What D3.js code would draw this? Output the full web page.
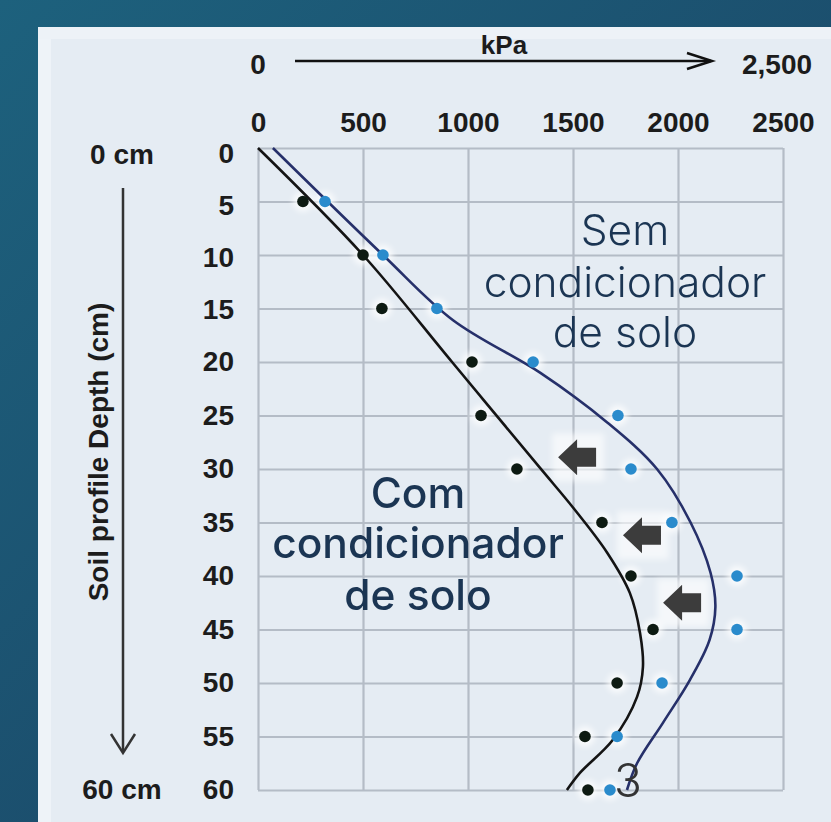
<!DOCTYPE html>
<html><head><meta charset="utf-8">
<script src="https://cdn.jsdelivr.net/npm/d3@7/dist/d3.min.js"></script>
<style>html,body{margin:0;padding:0;overflow:hidden;background:#1b4f6e}</style>
</head><body><svg id="c" width="831" height="822"></svg>
<script>
// ---------- data ----------
const depths = [5,10,15,20,25,30,35,40,45,50,55,60];
const comCondicionador = [214,500,590,1019,1062,1233,1638,1776,1881,1710,1557,1571];
const semCondicionador = [319,595,852,1310,1714,1776,1971,2281,2281,1924,1710,1676];
const comCurveKpa   = [0,500,924,1343,1500,1662,1771,1819,1833,1805,1690,1533,1471];
const comCurveDepth = [0,10,20,29.9,33.6,37.8,41.6,45.3,48.5,51.3,55.3,58.4,60];
const semCurveKpa   = [71,595,929,1343,1660,1900,2060,2155,2178,2150,2057,1929,1805,1757];
const semCurveDepth = [0,10,16.1,21,25.6,30,35,39.7,42.9,46,49.7,53.7,57.5,60];
const xTicks = [0,500,1000,1500,2000,2500];
const yTicks = [0,5,10,15,20,25,30,35,40,45,50,55,60];
const arrowKpa = [1429,1738,1929];
const arrowDepth = [28.9,36.2,42.5];
const semLabel = ["Sem","condicionador","de solo"];
const comLabel = ["Com","condicionador","de solo"];

// ---------- drawing ----------
const svg = d3.select("#c");
const defs = svg.append("defs");
const bg = defs.append("linearGradient").attr("id","bg").attr("x1",0).attr("y1",0).attr("x2",1).attr("y2",1);
bg.append("stop").attr("offset","0%").attr("stop-color","#1d617d");
bg.append("stop").attr("offset","100%").attr("stop-color","#1a3f60");
const glow = defs.append("filter").attr("id","glow").attr("x","-50%").attr("y","-50%").attr("width","200%").attr("height","200%");
glow.append("feGaussianBlur").attr("stdDeviation",3);

svg.append("rect").attr("width",831).attr("height",822).attr("fill","url(#bg)");
svg.append("rect").attr("x",38).attr("y",27).attr("width",800).attr("height",800).attr("fill","#e5ecf3");
svg.append("rect").attr("x",38).attr("y",27).attr("width",13).attr("height",800).attr("fill","#eef3f8");
svg.append("rect").attr("x",38).attr("y",27).attr("width",800).attr("height",12).attr("fill","#edf2f7");

const x = d3.scaleLinear().domain([0,2500]).range([258,783]);
const y = d3.scaleLinear().domain([0,60]).range([148,790]);

// grid
const gridColor = "#b4bcc6";
const gx = svg.append("g").attr("transform","translate(0,148)")
  .call(d3.axisBottom(x).tickValues(xTicks).tickSize(642).tickFormat(""));
gx.select(".domain").remove();
gx.selectAll("line").attr("stroke",gridColor).attr("stroke-width",2.2);
const gy = svg.append("g").attr("transform","translate(258,0)")
  .call(d3.axisRight(y).tickValues(yTicks).tickSize(525).tickFormat(""));
gy.select(".domain").remove();
gy.selectAll("line").attr("stroke",gridColor).attr("stroke-width",2.2);

// axis labels
const axFont = "'Liberation Sans', Arial, sans-serif";
const ax = svg.append("g").attr("transform","translate(0,132)")
  .call(d3.axisTop(x).tickValues(xTicks).tickSize(0).tickPadding(0).tickFormat(d3.format("d")));
ax.select(".domain").remove();
ax.selectAll("text").attr("font-family",axFont).attr("font-weight","bold").attr("font-size",28).attr("fill","#1c1c1c");

const ay = svg.append("g").attr("transform","translate(234,0)")
  .call(d3.axisLeft(y).tickValues(yTicks).tickSize(0).tickPadding(0).tickFormat(d3.format("d")));
ay.select(".domain").remove();
ay.selectAll("text").attr("font-family",axFont).attr("font-weight","bold").attr("font-size",28).attr("fill","#1c1c1c")
  .attr("dy",(d)=> (0.32 + (d<=20 ? 0.18*(1-d/20) : 0)) + "em");

// top kPa arrow
const t = svg.append("g").attr("font-family",axFont).attr("font-weight","bold").attr("fill","#1c1c1c");
t.append("text").attr("x",x(0)).attr("y",74).attr("text-anchor","middle").attr("font-size",28).text("0");
t.append("text").attr("x",777).attr("y",74).attr("text-anchor","middle").attr("font-size",28).text(d3.format(",")(2500));
t.append("text").attr("x",504).attr("y",54).attr("text-anchor","middle").attr("font-size",26).text("kPa");
svg.append("line").attr("x1",295).attr("x2",711).attr("y1",61).attr("y2",61).attr("stroke","#111").attr("stroke-width",2.5);
svg.append("path").attr("d","M687,53 L712,61 L687,69").attr("fill","none").attr("stroke","#111").attr("stroke-width",2.5);

// left depth arrow
t.append("text").attr("x",122).attr("y",164).attr("text-anchor","middle").attr("font-size",28).text("0 cm");
t.append("text").attr("x",122).attr("y",799).attr("text-anchor","middle").attr("font-size",28).text("60 cm");
svg.append("line").attr("x1",123).attr("x2",123).attr("y1",188).attr("y2",752).attr("stroke","#333").attr("stroke-width",2.5);
svg.append("path").attr("d","M111,734 L123,753 L135,734").attr("fill","none").attr("stroke","#333").attr("stroke-width",2.5);
t.append("text").attr("transform","translate(108,452) rotate(-90)").attr("text-anchor","middle").attr("font-size",28).text("Soil profile Depth (cm)");

// curves
const line = d3.line().x(d=>x(d[0])).y(d=>y(d[1])).curve(d3.curveCatmullRom.alpha(0.5));
const comCurve = comCurveKpa.map((v,i)=>[v,comCurveDepth[i]]);
const semCurve = semCurveKpa.map((v,i)=>[v,semCurveDepth[i]]);

// halos
const semPts = semCondicionador.map((v,i)=>[v,depths[i]]);
const comPts = comCondicionador.map((v,i)=>[v,depths[i]]);
svg.append("g").attr("filter","url(#glow)").selectAll("circle").data(semPts.concat(comPts)).join("circle")
  .attr("cx",d=>x(d[0])).attr("cy",d=>y(d[1])).attr("r",10).attr("fill","#fff").attr("opacity",0.8);
svg.append("g").attr("filter","url(#glow)").selectAll("rect").data(arrowKpa).join("rect")
  .attr("x",d=>x(d)-6).attr("y",(d,i)=>y(arrowDepth[i])-24).attr("width",52).attr("height",48).attr("fill","#fff").attr("opacity",0.6);

svg.append("path").attr("d",line(comCurve)).attr("fill","none").attr("stroke","#141414").attr("stroke-width",2.6);
svg.append("path").attr("d",line(semCurve)).attr("fill","none").attr("stroke","#26306a").attr("stroke-width",2.6);

svg.append("g").selectAll("circle").data(comPts).join("circle")
  .attr("cx",d=>x(d[0])).attr("cy",d=>y(d[1])).attr("r",5.8).attr("fill","#0d1a12");
svg.append("g").selectAll("circle").data(semPts).join("circle")
  .attr("cx",d=>x(d[0])).attr("cy",d=>y(d[1])).attr("r",5.8).attr("fill","#2a8bcc");

// block arrows
svg.append("g").selectAll("path").data(arrowKpa).join("path")
  .attr("transform",(d,i)=>`translate(${x(d)},${y(arrowDepth[i])})`)
  .attr("d","M0,0 L19,-18 L19,-9.5 L38,-9.5 L38,9.5 L19,9.5 L19,18 Z")
  .attr("fill","#3c3c3c");

// annotations
const interF = "Inter, 'Noto Sans', sans-serif";
svg.append("text").attr("font-family",interF).attr("font-weight",300).attr("font-size",42.5).attr("fill","#1b3553")
  .attr("text-anchor","middle").selectAll("tspan").data(semLabel).join("tspan")
  .attr("x",625).attr("y",(d,i)=>[245,297,347][i]).text(d=>d);
svg.append("text").attr("font-family",interF).attr("font-weight",500).attr("font-size",42.5).attr("fill","#1b3553")
  .attr("text-anchor","middle").selectAll("tspan").data(comLabel).join("tspan")
  .attr("x",418).attr("y",(d,i)=>[508,558,610][i]).text(d=>d);
svg.append("text").attr("x",628).attr("y",797).attr("text-anchor","middle").attr("font-family",interF)
  .attr("font-weight",300).attr("font-size",46).attr("fill","#333").text("3");
</script></body></html>
